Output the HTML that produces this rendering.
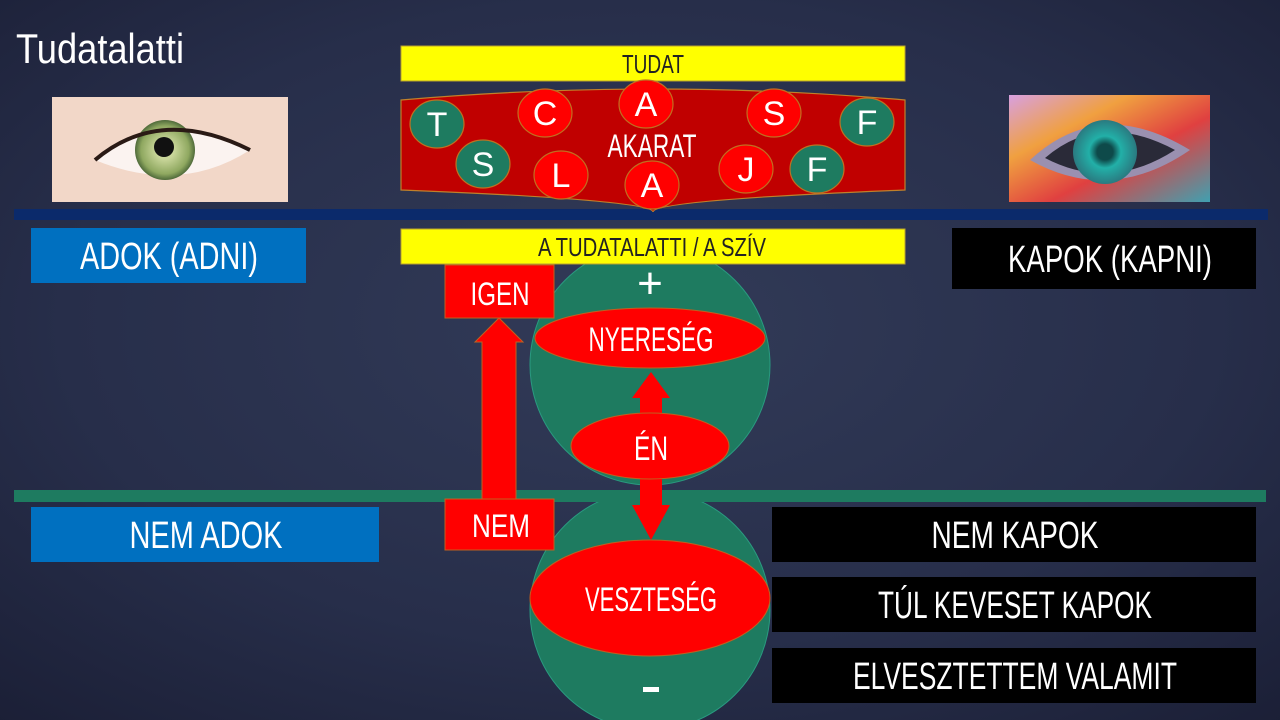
<!DOCTYPE html>
<html><head><meta charset="utf-8"><style>
html,body{margin:0;padding:0;width:1280px;height:720px;overflow:hidden;background:#232a44}
svg{display:block}
text{font-family:"Liberation Sans Narrow","Liberation Sans",sans-serif;fill:#fff}
</style></head><body>
<svg width="1280" height="720" viewBox="0 0 1280 720" xmlns="http://www.w3.org/2000/svg">
<defs>
<radialGradient id="bg" cx="50%" cy="45%" r="75%">
<stop offset="0" stop-color="#323b58"/><stop offset="0.6" stop-color="#272e4a"/><stop offset="1" stop-color="#1b1f36"/>
</radialGradient>
<radialGradient id="iris" cx="50%" cy="50%" r="50%"><stop offset="0.3" stop-color="#c9d69a"/><stop offset="0.8" stop-color="#8fa860"/><stop offset="1" stop-color="#4f6a3a"/></radialGradient>
<radialGradient id="iris2" cx="50%" cy="50%" r="50%"><stop offset="0.25" stop-color="#0e4a4a"/><stop offset="0.5" stop-color="#22b0a8"/><stop offset="1" stop-color="#2a7a80"/></radialGradient>
<linearGradient id="col" x1="0" y1="0" x2="1" y2="1"><stop offset="0" stop-color="#d8a0e0"/><stop offset="0.3" stop-color="#f0a040"/><stop offset="0.6" stop-color="#e04040"/><stop offset="1" stop-color="#40a0b0"/></linearGradient>
</defs>
<rect width="1280" height="720" fill="url(#bg)"/>
<text x="16" y="63" font-size="42" textLength="168" lengthAdjust="spacingAndGlyphs">Tudatalatti</text>

<!-- left eye -->
<rect x="52" y="97" width="236" height="105" fill="#f2d7c8"/>
<path d="M95 160 Q160 105 250 150 Q180 195 95 160Z" fill="#fbf3f0"/>
<circle cx="165" cy="150" r="30" fill="url(#iris)"/>
<circle cx="164" cy="147" r="10" fill="#111"/>
<path d="M95 160 Q160 105 250 150" stroke="#2a1a15" stroke-width="4" fill="none"/>
<!-- right eye -->
<rect x="1009" y="95" width="201" height="107" fill="url(#col)"/>
<path d="M1030 160 Q1100 95 1190 150 Q1110 205 1030 160Z" fill="#9a90b0"/>
<path d="M1045 158 Q1100 110 1175 150 Q1110 192 1045 158Z" fill="#2a2a38"/>
<circle cx="1105" cy="152" r="32" fill="url(#iris2)"/>

<!-- blue line -->
<rect x="14" y="209" width="1254" height="11" fill="#0b2a6b"/>

<!-- TUDAT -->
<rect x="401" y="46" width="504" height="35" fill="#ffff00" stroke="#b8a030" stroke-width="1"/>
<text x="653" y="73" font-size="26" text-anchor="middle" style="fill:#222" textLength="62" lengthAdjust="spacingAndGlyphs">TUDAT</text>

<!-- akarat banner -->
<path d="M401 100 Q653 78 905 100 L905 190 Q653 200 653 212 Q653 200 401 190Z" fill="#c00000" stroke="#c0802a" stroke-width="1.2"/>
<g stroke="#c07020" stroke-width="1.2">
<ellipse cx="437" cy="124" rx="27" ry="24" fill="#1e7b60"/>
<ellipse cx="483" cy="164" rx="27" ry="24" fill="#1e7b60"/>
<ellipse cx="545" cy="113" rx="27" ry="24" fill="#ff0000"/>
<ellipse cx="561" cy="175" rx="27" ry="24" fill="#ff0000"/>
<ellipse cx="646" cy="104" rx="27" ry="24" fill="#ff0000"/>
<ellipse cx="652" cy="185" rx="27" ry="24" fill="#ff0000"/>
<ellipse cx="774" cy="113" rx="27" ry="24" fill="#ff0000"/>
<ellipse cx="746" cy="169" rx="27" ry="24" fill="#ff0000"/>
<ellipse cx="817" cy="169" rx="27" ry="24" fill="#1e7b60"/>
<ellipse cx="867" cy="122" rx="27" ry="24" fill="#1e7b60"/>
</g>
<g font-size="34" text-anchor="middle">
<text x="437" y="136">T</text><text x="483" y="176">S</text><text x="545" y="125">C</text><text x="561" y="187">L</text>
<text x="646" y="116">A</text><text x="652" y="197">A</text><text x="774" y="125">S</text><text x="746" y="181">J</text>
<text x="817" y="181">F</text><text x="867" y="134">F</text>
</g>
<text x="652" y="157" font-size="32" text-anchor="middle" textLength="89" lengthAdjust="spacingAndGlyphs">AKARAT</text>

<!-- circles (behind bar) -->
<circle cx="650" cy="365" r="120" fill="#1e7b60" stroke="#2a9a80" stroke-width="1"/>
<circle cx="650" cy="610" r="120" fill="#1e7b60" stroke="#2a9a80" stroke-width="1"/>

<!-- A TUDATALATTI -->
<rect x="401" y="229" width="504" height="35" fill="#ffff00" stroke="#b8a030" stroke-width="1"/>
<text x="652" y="256" font-size="26" text-anchor="middle" style="fill:#222" textLength="228" lengthAdjust="spacingAndGlyphs">A TUDATALATTI / A SZÍV</text>

<rect x="31" y="228" width="275" height="55" fill="#0070c0"/>
<text x="169" y="269" font-size="38" text-anchor="middle" textLength="178" lengthAdjust="spacingAndGlyphs">ADOK (ADNI)</text>
<rect x="952" y="228" width="304" height="61" fill="#000"/>
<text x="1110" y="272" font-size="38" text-anchor="middle" textLength="204" lengthAdjust="spacingAndGlyphs">KAPOK (KAPNI)</text>

<!-- green line -->
<rect x="14" y="490" width="1252" height="12" fill="#1e7b60"/>

<rect x="31" y="507" width="348" height="55" fill="#0070c0"/>
<text x="206" y="548" font-size="38" text-anchor="middle" textLength="153" lengthAdjust="spacingAndGlyphs">NEM ADOK</text>

<rect x="772" y="507" width="484" height="55" fill="#000"/>
<text x="1015" y="548" font-size="38" text-anchor="middle" textLength="167" lengthAdjust="spacingAndGlyphs">NEM KAPOK</text>
<rect x="772" y="577" width="484" height="55" fill="#000"/>
<text x="1015" y="618" font-size="38" text-anchor="middle" textLength="274" lengthAdjust="spacingAndGlyphs">TÚL KEVESET KAPOK</text>
<rect x="772" y="648" width="484" height="55" fill="#000"/>
<text x="1015" y="689" font-size="38" text-anchor="middle" textLength="324" lengthAdjust="spacingAndGlyphs">ELVESZTETTEM VALAMIT</text>

<!-- big arrow up -->
<path d="M482 510 L482 342 L475 342 L499 318 L523 342 L516 342 L516 510Z" fill="#ff0000" stroke="#c06020" stroke-width="1"/>
<rect x="445" y="265" width="109" height="53" fill="#ff0000" stroke="#c06020" stroke-width="1"/>
<text x="500" y="305" font-size="32" text-anchor="middle" textLength="59" lengthAdjust="spacingAndGlyphs">IGEN</text>
<rect x="445" y="499" width="109" height="51" fill="#ff0000" stroke="#c06020" stroke-width="1"/>
<text x="501" y="537" font-size="32" text-anchor="middle" textLength="58" lengthAdjust="spacingAndGlyphs">NEM</text>

<!-- small arrows -->
<path d="M640 420 L640 398 L632 398 L651 372 L670 398 L662 398 L662 420Z" fill="#ff0000"/>
<path d="M640 470 L640 505 L632 505 L651 540 L670 505 L662 505 L662 470Z" fill="#ff0000"/>

<ellipse cx="650" cy="338" rx="115" ry="30" fill="#ff0000" stroke="#c06020" stroke-width="1"/>
<text x="651" y="351" font-size="34" text-anchor="middle" textLength="125" lengthAdjust="spacingAndGlyphs">NYERESÉG</text>
<ellipse cx="650" cy="446" rx="79" ry="33" fill="#ff0000" stroke="#c06020" stroke-width="1"/>
<text x="651" y="460" font-size="34" text-anchor="middle" textLength="34" lengthAdjust="spacingAndGlyphs">ÉN</text>
<ellipse cx="650" cy="598" rx="120" ry="58" fill="#ff0000" stroke="#c06020" stroke-width="1"/>
<text x="651" y="611" font-size="34" text-anchor="middle" textLength="132" lengthAdjust="spacingAndGlyphs">VESZTESÉG</text>

<text x="650" y="298" font-size="44" text-anchor="middle">+</text>
<rect x="643" y="687" width="16" height="5" fill="#fff"/>
</svg>
</body></html>
